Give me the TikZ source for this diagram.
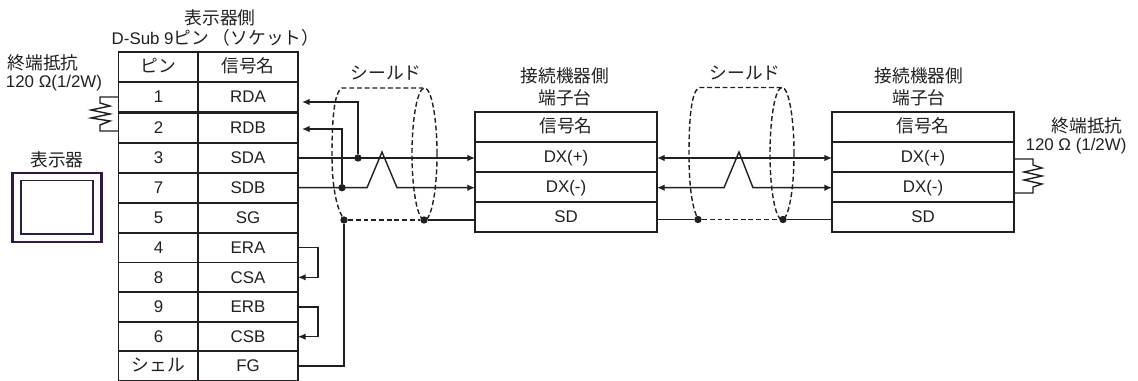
\documentclass[tikz,border=0pt]{standalone}
\usepackage{fontspec}
\usepackage{xcolor}
\usepackage{tikz}
\usetikzlibrary{arrows, arrows.meta}
\setmainfont{Liberation Sans}
\newfontfamily\jp[Scale=1.05]{Noto Sans CJK JP}
\definecolor{ink}{HTML}{231F20}
\definecolor{framecol}{HTML}{2E1A47}
\tikzset{
  every node/.style={font=\fontsize{9.6}{11.5}\selectfont, text=ink},
  cell/.style={draw=ink, line width=.85pt, inner sep=0pt, outer sep=0pt, minimum height=.594cm, text height=8pt, text depth=1.4pt},
  pincell/.style={cell, minimum width=1.6cm},
  sigcell/.style={cell, minimum width=2cm},
  termcell/.style={cell, minimum width=3.64cm},
  wire/.style={draw=ink, line width=.8pt},
  tipwire/.style={wire, -{Latex[length=4.4pt,width=3.8pt]}},
  bothwire/.style={wire, {Latex[length=4.4pt,width=3.8pt]}-{Latex[length=4.4pt,width=3.8pt]}},
  shield/.style={draw=ink, line width=.8pt, dash pattern=on 2.8pt off 1.6pt},
  junction/.style={circle, fill=ink, inner sep=0pt, minimum size=4.2pt}
}

\begin{document}
\begin{tikzpicture}[x=.02cm, y=-.02cm]
  \useasboundingbox (0,0) rectangle (1138,381);

  \draw node (title) at (220,18) {{\jp 表示器側}};
  \draw node (sub) at (215.5,38) {D-Sub 9{\jp ピン （ソケット）}};
  \draw node (rtitlea) at (43,63) {{\jp 終端抵抗}};
  \draw node (rvala) at (54,83) {120 Ω(1/2W)};
  \draw node (disp) at (57,160) {{\jp 表示器}};

  \draw[framecol, line width=1.3pt] (12.5,173) rectangle (101.5,242);
  \draw[framecol, line width=.7pt] (21,180.5) rectangle (93,234);

  \draw node[pincell] (ph) at (158.5,67) {{\jp ピン}};
  \draw node[pincell] (p1) at (158.5,97) {1};
  \draw node[pincell] (p2) at (158.5,127.7) {2};
  \draw node[pincell] (p3) at (158.5,158) {3};
  \draw node[pincell] (p7) at (158.5,187.7) {7};
  \draw node[pincell] (p5) at (158.5,217.7) {5};
  \draw node[pincell] (p4) at (158.5,247.7) {4};
  \draw node[pincell] (p8) at (158.5,277.3) {8};
  \draw node[pincell] (p9) at (158.5,307) {9};
  \draw node[pincell] (p6) at (158.5,336.7) {6};
  \draw node[pincell] (pf) at (158.5,366) {{\jp シェル}};

  \draw node[sigcell] (sh) at (248,67) {{\jp 信号名}};
  \draw node[sigcell] (rda) at (248,97) {RDA};
  \draw node[sigcell] (rdb) at (248,127.7) {RDB};
  \draw node[sigcell] (sda) at (248,158) {SDA};
  \draw node[sigcell] (sdb) at (248,187.7) {SDB};
  \draw node[sigcell] (sg) at (248,217.7) {SG};
  \draw node[sigcell] (era) at (248,247.7) {ERA};
  \draw node[sigcell] (csa) at (248,277.3) {CSA};
  \draw node[sigcell] (erb) at (248,307) {ERB};
  \draw node[sigcell] (csb) at (248,336.7) {CSB};
  \draw node[sigcell] (fg) at (248,366) {FG};

  \draw node (cona) at (565,76) {{\jp 接続機器側}};
  \draw node (tera) at (565,98) {{\jp 端子台}};
  \draw node[termcell] (tha) at (566,127) {{\jp 信号名}};
  \draw node[termcell] (dpa) at (566,157) {DX(+)};
  \draw node[termcell] (dma) at (566,187) {DX(-)};
  \draw node[termcell] (sda2) at (566,217) {SD};

  \draw node (conb) at (919,76) {{\jp 接続機器側}};
  \draw node (terb) at (919,98) {{\jp 端子台}};
  \draw node[termcell] (thb) at (923,127) {{\jp 信号名}};
  \draw node[termcell] (dpb) at (923,157) {DX(+)};
  \draw node[termcell] (dmb) at (923,187) {DX(-)};
  \draw node[termcell] (sdb2) at (923,217) {SD};

  \draw node (rtitleb) at (1087,126) {{\jp 終端抵抗}};
  \draw node (rvalb) at (1076,146) {120 Ω (1/2W)};

  \coordinate (ra) at (100,97);
  \coordinate (rb) at (100,131);
  \draw[wire] (p1.west) -- (ra) -- (100,103) -- (110,106) -- (91,110) -- (110,114) -- (91,118) -- (110,121) -- (100,125) -- (rb) -- (rb -| p2.west);

  \coordinate (rc) at (1033,159);
  \coordinate (rd) at (1033,193);
  \draw[wire] (rc -| dpb.east) -- (rc) -- (1033,165) -- (1042,168) -- (1024,172) -- (1042,176) -- (1024,180) -- (1042,184) -- (1033,187) -- (rd) -- (rd -| dpb.east);

  \draw[tipwire] (era.east) -- (318,247.7) |- (csa.east);
  \draw[tipwire] (erb.east) -- (318,307) |- (csb.east);

  \begin{scope}
  \coordinate (tla) at (342,88);
  \coordinate (tra) at (423,88);
  \draw node[junction] (sla) at (344,220) {};
  \draw node[junction] (sra) at (424,220) {};
  \draw node[junction] (ja) at (358,158) {};
  \draw node[junction] (jb) at (342,187.7) {};
  \coordinate (ta) at (302,102);
  \coordinate (tb) at (302,129);
  \coordinate (ha) at (367,187.7);
  \coordinate (hb) at (382,152);
  \coordinate (hc) at (397,187.7);
  \draw node (shda) at (386,73) {{\jp シールド}};
  \draw[shield] (sla) .. controls (336,205) and (332,185) .. (332,155) .. controls (332,120) and (334,92) .. (tla) -- (tra);
  \draw[shield] (424.5,154) ellipse [x radius=12.5, y radius=66];
  \draw[shield] (sla) -- (sra);
  \draw[tipwire] (sda.east) -- (sda.east -| dpa.west);
  \draw[tipwire] (sdb.east) -- (ha) -- (hb) -- (hc) -- (hc -| dma.west);
  \draw[tipwire] (ja) |- (ta);
  \draw[tipwire] (jb) |- (tb);
  \draw[wire] (sra) -- (sra -| sda2.west);
  \draw[wire] (sla) |- (fg.east);
  \end{scope}

  \begin{scope}
  \coordinate (tlb) at (699,87.5);
  \coordinate (trb) at (783,87.5);
  \draw node[junction] (slb) at (698,219.5) {};
  \draw node[junction] (srb) at (783,219.5) {};
  \coordinate (hd) at (724,187.7);
  \coordinate (he) at (739,152);
  \coordinate (hf) at (753,187.7);
  \draw node (shdb) at (745,73) {{\jp シールド}};
  \draw[shield] (slb) .. controls (692,205) and (689,185) .. (689,155) .. controls (689,120) and (691,92) .. (tlb) -- (trb);
  \draw[shield] (782,153.5) ellipse [x radius=12, y radius=66];
  \draw[shield] (slb) -- (srb);
  \draw[bothwire] (dpa.east |- sda.east) -- (dpb.west |- sda.east);
  \draw[bothwire] (dma.east |- hd) -- (hd) -- (he) -- (hf) -- (dmb.west |- hd);
  \draw[wire] (sda2.east |- slb) -- (slb);
  \draw[wire] (srb) -- (sdb2.west |- srb);
  \end{scope}

\end{tikzpicture}
\end{document}
